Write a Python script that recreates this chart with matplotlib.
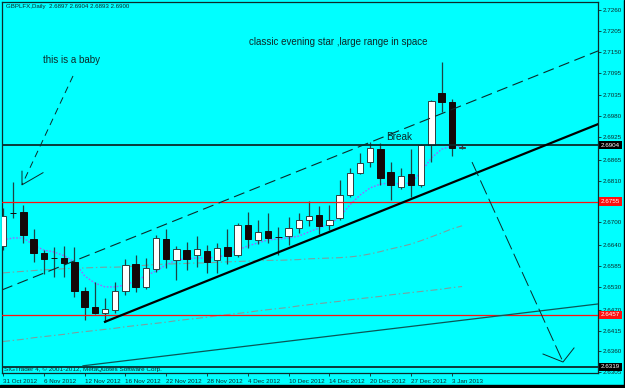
import matplotlib
matplotlib.use("Agg")
import matplotlib.pyplot as plt
import numpy as np

plt.rcParams['font.family'] = ['Liberation Sans', 'DejaVu Sans']
plt.rcParams['lines.scale_dashes'] = False

# Daily GBP bars, 31 Oct 2012 .. 4 Jan 2013 (one entry per trading day)
opens = [2.6638, 2.6726, 2.6727, 2.6656, 2.6619, 2.6606, 2.6606, 2.6596, 2.6519, 2.6477,
         2.6461, 2.6469, 2.6519, 2.6590, 2.6530, 2.6577, 2.6656, 2.6601, 2.6627, 2.6614,
         2.6625, 2.6601, 2.6635, 2.6614, 2.6693, 2.6654, 2.6677, 2.6662, 2.6664, 2.6685,
         2.6706, 2.6720, 2.6693, 2.6712, 2.6772, 2.6830, 2.6859, 2.6893, 2.6833, 2.6793,
         2.6828, 2.6799, 2.6904, 2.7041, 2.7017, 2.6897]
highs = [2.6738, 2.6807, 2.6746, 2.6683, 2.6627, 2.6635, 2.6638, 2.6635, 2.6530, 2.6543,
         2.6501, 2.6543, 2.6604, 2.6614, 2.6606, 2.6667, 2.6683, 2.6638, 2.6648, 2.6664,
         2.6640, 2.6646, 2.6683, 2.6698, 2.6727, 2.6706, 2.6725, 2.6688, 2.6714, 2.6725,
         2.6756, 2.6743, 2.6746, 2.6812, 2.6843, 2.6883, 2.6912, 2.6909, 2.6859, 2.6843,
         2.6893, 2.6906, 2.7022, 2.7123, 2.7025, 2.6904]
lows = [2.6627, 2.6712, 2.6646, 2.6596, 2.6564, 2.6556, 2.6556, 2.6503, 2.6443, 2.6459,
        2.6438, 2.6461, 2.6509, 2.6517, 2.6525, 2.6569, 2.6580, 2.6548, 2.6575, 2.6583,
        2.6567, 2.6567, 2.6590, 2.6609, 2.6633, 2.6643, 2.6646, 2.6614, 2.6640, 2.6672,
        2.6691, 2.6669, 2.6680, 2.6706, 2.6767, 2.6828, 2.6846, 2.6799, 2.6759, 2.6788,
        2.6767, 2.6793, 2.6859, 2.6991, 2.6875, 2.6893]
closes = [2.6717, 2.6724, 2.6667, 2.6619, 2.6604, 2.6605, 2.6593, 2.6519, 2.6477, 2.6461,
          2.6472, 2.6519, 2.6588, 2.6530, 2.6580, 2.6659, 2.6604, 2.6630, 2.6604, 2.6630,
          2.6596, 2.6633, 2.6612, 2.6693, 2.6656, 2.6675, 2.6659, 2.6661, 2.6685, 2.6706,
          2.6717, 2.6691, 2.6706, 2.6772, 2.6830, 2.6857, 2.6896, 2.6817, 2.6799, 2.6822,
          2.6799, 2.6904, 2.7020, 2.7017, 2.6897, 2.6900]

# moving averages drawn on the chart
ma_fast = [2.6654, 2.6659, 2.6659, 2.6640, 2.6627, 2.6622, 2.6612, 2.6596, 2.6559, 2.6540,
           2.6530, 2.6530, 2.6535, 2.6546, 2.6559, 2.6572, 2.6588, 2.6601, 2.6604, 2.6606,
           2.6606, 2.6609, 2.6614, 2.6627, 2.6638, 2.6646, 2.6654, 2.6656, 2.6659, 2.6664,
           2.6675, 2.6685, 2.6696, 2.6714, 2.6746, 2.6772, 2.6791, 2.6801, 2.6804, 2.6801,
           2.6804, 2.6833, 2.6870, 2.6893, 2.6901, 2.6901]
ma_mid = [2.6567, 2.6569, 2.6571, 2.6573, 2.6575, 2.6576, 2.6578, 2.6579, 2.6580, 2.6581,
          2.6582, 2.6582, 2.6583, 2.6585, 2.6587, 2.6589, 2.6590, 2.6591, 2.6592, 2.6593,
          2.6593, 2.6595, 2.6596, 2.6597, 2.6598, 2.6599, 2.6600, 2.6600, 2.6601, 2.6602,
          2.6604, 2.6605, 2.6606, 2.6607, 2.6609, 2.6612, 2.6617, 2.6623, 2.6630, 2.6636,
          2.6643, 2.6652, 2.6662, 2.6672, 2.6683, 2.6691]
ma_slow = [2.6386, 2.6389, 2.6392, 2.6396, 2.6399, 2.6402, 2.6405, 2.6409, 2.6412, 2.6415,
           2.6418, 2.6421, 2.6425, 2.6428, 2.6431, 2.6434, 2.6437, 2.6441, 2.6444, 2.6447,
           2.6450, 2.6454, 2.6457, 2.6460, 2.6463, 2.6467, 2.6470, 2.6473, 2.6476, 2.6480,
           2.6483, 2.6486, 2.6489, 2.6492, 2.6496, 2.6499, 2.6502, 2.6505, 2.6509, 2.6512,
           2.6515, 2.6518, 2.6521, 2.6524, 2.6528, 2.6531]

date_ticks = [0, 4, 8, 12, 16, 20, 24, 28, 32, 36, 40, 44]
date_labels = ['31 Oct 2012', '6 Nov 2012', '12 Nov 2012', '16 Nov 2012', '22 Nov 2012',
               '28 Nov 2012', '4 Dec 2012', '10 Dec 2012', '14 Dec 2012', '20 Dec 2012',
               '27 Dec 2012', '3 Jan 2013']
price_ticks = [2.7260, 2.7205, 2.7150, 2.7095, 2.7035, 2.6980, 2.6925, 2.6865, 2.6810,
               2.6700, 2.6640, 2.6585, 2.6530, 2.6470, 2.6415, 2.6360, 2.6305]

# chart objects (bar index, price)
black_levels = [2.6904, 2.6319]
red_levels = [2.6755, 2.6457]
support_line = ([10, 58.33], [2.6438, 2.6959])
channel_line = ([-0.1, 58.33], [2.6522, 2.7152])
low_line = ([7.84, 58.33], [2.6322, 2.6485])
baby_arrow = ([6.86, 1.86], [2.7086, 2.6799])
baby_head = ([1.86, 1.86, 3.92], [2.6835, 2.6799, 2.6831])
drop_arrow = ([45.98, 54.9], [2.6859, 2.6332])
drop_head = ([52.94, 54.9, 55.98], [2.6353, 2.6332, 2.6369])

bg = '#00ffff'
ink = '#0c2a2a'

fig = plt.figure(figsize=(6.25, 3.88), dpi=100, facecolor=bg)
ax = fig.add_axes([2 / 625, 15 / 388, 596 / 625, 371 / 388])
ax.set_facecolor(bg)

idx = np.arange(len(opens))
o = np.array(opens)
c = np.array(closes)

# moving averages
ax.plot(idx, ma_slow, color='#7a9f9f', lw=0.8, ls=(0, (5, 2, 1, 2)), zorder=1)
ax.plot(idx, ma_mid, color='#7a9f9f', lw=0.8, ls=(0, (5, 2, 1, 2)), zorder=1)
ax.plot(idx, ma_fast, color='#9966ff', lw=1.0, ls=(0, (1.2, 1.2)), zorder=1)

# horizontal levels
for lv in black_levels:
    ax.axhline(lv, color=ink, lw=1.3, zorder=4)
for lv in red_levels:
    ax.axhline(lv, color='#ff1010', lw=0.9, zorder=4)

# trend lines
ax.plot(*support_line, color='black', lw=1.6, zorder=5)
ax.plot(*channel_line, color=ink, lw=0.8, ls=(0, (8, 4)), zorder=5)
ax.plot(*low_line, color='#0a5656', lw=0.9, zorder=5)

# arrows
ax.plot(*baby_arrow, color=ink, lw=0.7, ls=(0, (5, 3.5)), zorder=5)
ax.plot(*baby_head, color=ink, lw=0.7, zorder=5)
ax.plot(*drop_arrow, color=ink, lw=0.7, ls=(0, (11, 3.5)), zorder=5)
ax.plot(*drop_head, color=ink, lw=0.7, zorder=5)

# candles
ax.vlines(idx, lows, highs, color='#1d4444', lw=0.9, zorder=2)
up = c >= o
body = np.maximum(np.abs(c - o), 0.00004)
ax.bar(idx[up], body[up], bottom=o[up], width=0.62, color='white',
       edgecolor='#2a4040', lw=0.7, zorder=3)
ax.bar(idx[~up], body[~up], bottom=c[~up], width=0.62, color='#140808',
       edgecolor='#140808', lw=0.7, zorder=3)

# texts
ax.text(6.76, 2.7128, 'this is a baby', fontsize=7, color=ink, ha='center', va='center')
ax.text(32.9, 2.7175, 'classic evening star ,large range in space', fontsize=7,
        color=ink, ha='center', va='center')
ax.text(38.87, 2.6925, 'Break', fontsize=7.2, color=ink, ha='center', va='center', zorder=6)
ax.text(0.006, 0.987, 'GBPLFX,Daily  2.6897 2.6904 2.6893 2.6900', transform=ax.transAxes,
        fontsize=4.4, color=ink, va='center')
ax.text(0.004, 0.004, 'SIGTrader 4, \u00a9 2001-2012, MetaQuotes Software Corp.',
        transform=ax.transAxes, fontsize=4.6, color=ink, va='bottom', zorder=6)

ax.set_xlim(-0.1, 58.33)
ax.set_ylim(2.6303, 2.7281)

ax.set_xticks(date_ticks)
ax.set_xticklabels(date_labels, ha='left')
ax.yaxis.tick_right()
ax.set_yticks(price_ticks)
ax.set_yticklabels(['%.4f' % p for p in price_ticks])
ax.tick_params(axis='x', direction='out', length=2.5, width=0.6, pad=1.5,
               labelsize=4.5, colors=ink)
ax.tick_params(axis='y', direction='out', length=2, width=0.6, pad=1.5,
               labelsize=4.5, colors=ink)

# price tags on the right axis
tags = [(2.6904, 'black'), (2.6755, '#ff1010'), (2.6457, '#ff1010'), (2.6319, 'black')]
for p, col in tags:
    ax.text(1.005, p, '%.4f' % p, transform=ax.get_yaxis_transform(), fontsize=4.5,
            color='white', va='center', ha='left', clip_on=False,
            bbox=dict(boxstyle='square,pad=0.25', fc=col, ec='none'))

for s in ax.spines.values():
    s.set_color(ink)
    s.set_linewidth(0.9)

# dark window border at right and bottom
fig.add_artist(plt.Rectangle((0, 0), 1, 3 / 388, transform=fig.transFigure,
                             color='black', zorder=10))
fig.add_artist(plt.Rectangle((624 / 625, 0), 1 / 625, 1, transform=fig.transFigure,
                             color='black', zorder=10))

fig.savefig('out.png', dpi=100, facecolor=bg)
